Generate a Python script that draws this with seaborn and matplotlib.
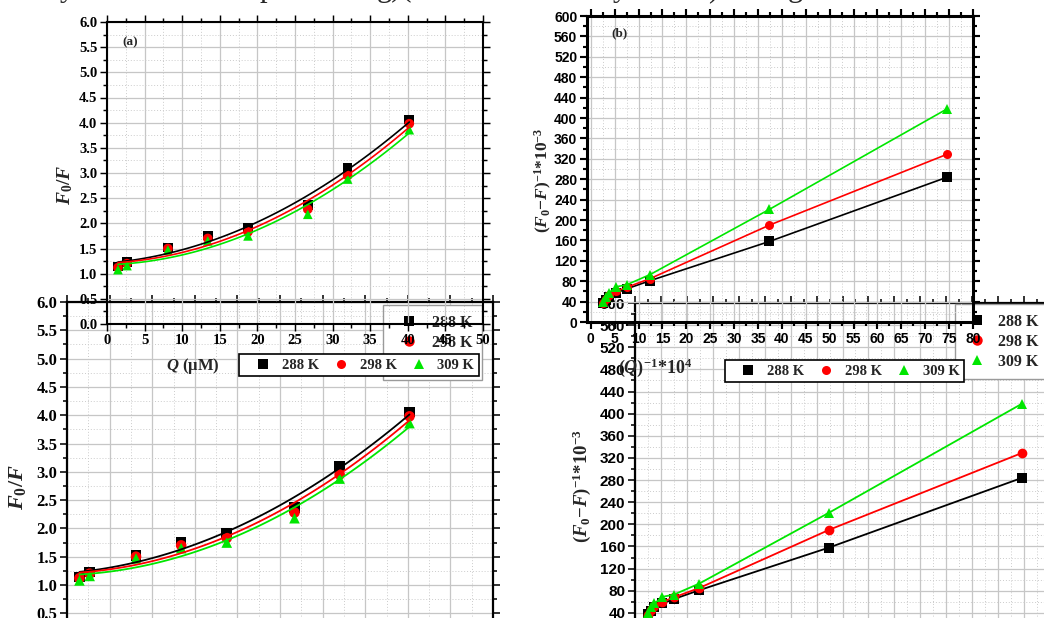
import numpy as np
import pandas as pd
import matplotlib
matplotlib.use("Agg")
import matplotlib.pyplot as plt
import seaborn as sns
from matplotlib.ticker import MultipleLocator, FormatStrFormatter
from matplotlib.lines import Line2D

# ---------------- data ----------------
temps = ["288 K", "298 K", "309 K"]
colors = ["#000000", "#ff0000", "#00e600"]
markers = ["s", "o", "^"]

# Stern-Volmer panel (a): F0/F vs Q (uM)
q_um = [1.46, 2.66, 8.1, 13.4, 18.75, 26.7, 32.0, 40.2]
f0f_288 = [1.14, 1.23, 1.52, 1.76, 1.91, 2.37, 3.10, 4.06]
f0f_298 = [1.12, 1.20, 1.50, 1.70, 1.83, 2.28, 2.95, 3.98]
f0f_309 = [1.08, 1.16, 1.47, 1.65, 1.75, 2.18, 2.88, 3.86]

# Double reciprocal panel (b): (F0-F)^-1*10^-3 vs (Q)^-1*10^4
inv_q = [2.5, 3.1, 3.75, 5.3, 7.5, 12.4, 37.4, 74.6]
inv_288 = [38, 43, 50, 57, 65, 81, 158, 284]
inv_298 = [37, 45, 52, 60, 68, 85, 190, 329]
inv_309 = [40, 50, 57, 69, 73, 93, 221, 418]

# ---------------- style ----------------
sns.set_style("ticks")
plt.rcParams.update({
    "font.family": ["Liberation Serif", "DejaVu Serif"],
    "font.weight": "bold",
    "mathtext.fontset": "custom",
    "mathtext.it": "Liberation Serif:italic:bold",
    "mathtext.rm": "Liberation Serif:bold",
    "mathtext.bf": "Liberation Serif:bold",
})

W, H = 1044, 618
fig = plt.figure(figsize=(W / 100, H / 100), dpi=100)
fig.patch.set_facecolor("white")


def box(x0, y0, x1, y1):
    return [x0 / W, 1 - y1 / H, (x1 - x0) / W, (y1 - y0) / H]


def style_axes(ax, xmaj, ymaj, family, size, spine_lw, yfmt, xlim, ylim,
               show_x=True):
    ax.set_facecolor("none")
    ax.set_xlim(*xlim)
    ax.set_ylim(*ylim)
    ax.xaxis.set_major_locator(MultipleLocator(xmaj))
    ax.xaxis.set_minor_locator(MultipleLocator(xmaj / 2))
    ax.yaxis.set_major_locator(MultipleLocator(ymaj))
    ax.yaxis.set_minor_locator(MultipleLocator(ymaj / 2))
    ax.yaxis.set_major_formatter(FormatStrFormatter(yfmt))
    ax.xaxis.set_major_formatter(FormatStrFormatter("%d"))
    ax.grid(which="major", color="#c6c6c6", lw=0.9, ls="-")
    ax.grid(which="minor", color="#cccccc", lw=0.7, ls=(0, (1, 2)))
    ax.set_axisbelow(True)
    for s in ax.spines.values():
        s.set_visible(True)
        s.set_linewidth(spine_lw)
        s.set_color("k")
    ax.tick_params(which="both", direction="out", top=True, right=True,
                   labelsize=size, labelfontfamily=family, width=spine_lw * 0.7,
                   color="k", labelcolor="k", pad=2, labelbottom=show_x)
    ax.tick_params(which="major", length=5)
    ax.tick_params(which="minor", length=3)
    ax.set_xlabel("")
    ax.set_ylabel("")


def sv_panel(ax, s, lw):
    for y, c, m in zip([f0f_288, f0f_298, f0f_309], colors, markers):
        sns.scatterplot(x=q_um, y=y, color=c, marker=m, s=s, edgecolor="none",
                        ax=ax, zorder=3, legend=False)
        sns.regplot(x=q_um, y=y, order=2, ci=None, scatter=False, color=c,
                    ax=ax, truncate=True, line_kws={"lw": lw, "zorder": 4})


def dr_panel(ax, ms, lw):
    for y, c, m in zip([inv_288, inv_298, inv_309], colors, markers):
        sns.lineplot(x=inv_q, y=y, color=c, marker=m, markersize=ms,
                     markeredgewidth=0, lw=lw, ax=ax, sort=False,
                     estimator=None, legend=False, zorder=3)


def handles(ms):
    return [Line2D([], [], ls="none", marker=m, color=c, markersize=ms,
                   markeredgewidth=0) for c, m in zip(colors, markers)]


serif = "Liberation Serif"
sans = "Liberation Sans"

# ---------- bottom (underlying) copies ----------
ax_bl = fig.add_axes(box(67, 302, 493, 641.6))
sv_panel(ax_bl, 58, 1.3)
style_axes(ax_bl, 5, 0.5, serif, 12, 1.6, "%.1f", (0, 50), (0, 6), show_x=False)
ax_bl.legend(handles(7.5), temps, loc="upper left",
             bbox_to_anchor=(383 / W, 1 - 305 / H), bbox_transform=fig.transFigure,
             frameon=True, fancybox=False, edgecolor="#9a9a9a", facecolor="white",
             framealpha=1, prop={"family": serif, "weight": "bold", "size": 11.5},
             handlelength=2.0, handletextpad=0.45, borderpad=0.6, labelspacing=0.25,
             borderaxespad=0)

ax_br = fig.add_axes(box(635, 303, 1050, 635))
dr_panel(ax_br, 7, 1.3)
style_axes(ax_br, 5, 40, sans, 11, 1.6, "%d", (0, 80), (0, 600), show_x=False)
ax_br.legend(handles(7.5), temps, loc="upper left",
             bbox_to_anchor=(955 / W, 1 - 304 / H), bbox_transform=fig.transFigure,
             frameon=True, fancybox=False, edgecolor="#9a9a9a", facecolor="white",
             framealpha=1, prop={"family": serif, "weight": "bold", "size": 11.5},
             handlelength=1.6, handletextpad=0.5, borderpad=0.6, labelspacing=0.25,
             borderaxespad=0)

# ---------- top copies ----------
ax_tl = fig.add_axes(box(107, 22, 483, 324))
sv_panel(ax_tl, 48, 1.2)
style_axes(ax_tl, 5, 0.5, serif, 10.5, 1.5, "%.1f", (0, 50), (0, 6))
leg_tl = ax_tl.legend(handles(6.5), temps, ncol=3, loc="center",
                      bbox_to_anchor=((240 + 478) / 2 / W, 1 - 365 / H),
                      bbox_transform=fig.transFigure, frameon=True, fancybox=False,
                      edgecolor="k", facecolor="white", framealpha=1,
                      prop={"family": serif, "weight": "bold", "size": 10.5},
                      handlelength=2.6, handletextpad=0.0, columnspacing=0.2,
                      borderpad=0.3, borderaxespad=0)
leg_tl.get_frame().set_linewidth(1.2)
leg_tl.set_zorder(10)

ax_tr = fig.add_axes(box(587, 16, 973, 322))
dr_panel(ax_tr, 6.5, 1.2)
style_axes(ax_tr, 5, 40, sans, 10, 2.2, "%d", (-0.8, 80), (0, 600))
leg_tr = ax_tr.legend(handles(6.5), temps, ncol=3, loc="center",
                      bbox_to_anchor=((727 + 962) / 2 / W, 1 - 371 / H),
                      bbox_transform=fig.transFigure, frameon=True, fancybox=False,
                      edgecolor="k", facecolor="white", framealpha=1,
                      prop={"family": serif, "weight": "bold", "size": 10.5},
                      handlelength=2.6, handletextpad=0.0, columnspacing=0.2,
                      borderpad=0.3, borderaxespad=0)
leg_tr.get_frame().set_linewidth(1.2)
leg_tr.set_zorder(10)

# ---------- labels ----------
fig.text(65 / W, 1 - 185 / H, r"$F_{\mathit{0}}/F$", rotation=90, ha="center",
         va="center", fontsize=14)
fig.text(18 / W, 1 - 487 / H, r"$F_{\mathit{0}}/F$", rotation=90, ha="center",
         va="center", fontsize=16)
ylab_b = r"$(F_{\mathit{0}}\mathit{-}F)^{\mathit{-1}}\mathit{*10}^{\mathit{-3}}$"
fig.text(543 / W, 1 - 180 / H, ylab_b, rotation=90, ha="center", va="center",
         fontsize=12.5)
fig.text(582 / W, 1 - 486 / H, ylab_b, rotation=90, ha="center", va="center",
         fontsize=13.5)
fig.text(193 / W, 1 - 366 / H, r"$Q$ (µM)", ha="center", va="center", fontsize=12)
fig.text(655 / W, 1 - 368 / H, r"$\mathit{(Q)}^{\mathit{-1}}\mathit{*10}^{\mathit{4}}$",
         ha="center", va="center", fontsize=13)
fig.text(130 / W, 1 - 42 / H, "(a)", ha="center", va="center", fontsize=9.5)
fig.text(620 / W, 1 - 33 / H, "(b)", ha="center", va="center", fontsize=9.5)

# cropped line of document text at the very top
for x, s in [(67, "y"), (267, "p"), (395, "g)("), (620, "y"), (713, ")"), (795, "g")]:
    fig.text(x / W, 1 + 4 / H, s, ha="center", va="baseline", fontsize=22,
             fontweight="normal", family=serif)

fig.savefig("out.png", dpi=100, facecolor="white")
